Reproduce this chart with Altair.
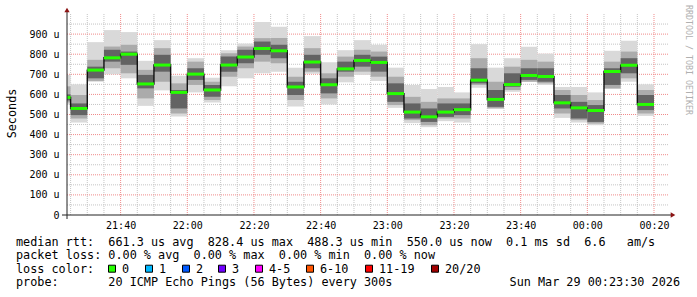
import altair as alt
import pandas as pd

# ---------------- data ----------------
step_start = ["21:20", "21:25", "21:30", "21:35", "21:40", "21:45", "21:50", "21:55",
              "22:00", "22:05", "22:10", "22:15", "22:20", "22:25", "22:30", "22:35",
              "22:40", "22:45", "22:50", "22:55", "23:00", "23:05", "23:10", "23:15",
              "23:20", "23:25", "23:30", "23:35", "23:40", "23:45", "23:50", "23:55",
              "00:00", "00:05", "00:10", "00:15"]
median_us = [585, 530, 721, 782, 800, 652, 746, 610, 701, 622, 746, 786, 828.4, 817, 637, 761,
             648, 727, 769, 759, 604, 512, 488.3, 512, 524, 671, 575, 649, 694, 689, 558, 533,
             520, 714, 745, 550.0]
smoke_max = [697, 650, 860, 920, 910, 767, 870, 693, 780, 683, 820, 853, 960, 937, 733, 890,
             760, 820, 870, 847, 733, 647, 627, 637, 610, 850, 733, 780, 837, 803, 637, 637,
             610, 817, 867, 650]
smoke_min = [550, 460, 663, 700, 680, 543, 620, 490, 610, 560, 640, 680, 705, 713, 540, 703,
             550, 660, 697, 667, 533, 457, 437, 467, 460, 633, 530, 613, 663, 647, 483, 460,
             447, 627, 663, 493]
mid_hi = [640, 597, 772, 838, 847, 722, 830, 655, 763, 663, 805, 838, 880, 880, 688, 830,
          705, 788, 822, 813, 688, 588, 563, 580, 580, 780, 663, 738, 772, 763, 622, 597,
          572, 763, 813, 622]
mid_lo = [560, 480, 667, 730, 705, 580, 663, 505, 647, 572, 688, 730, 763, 755, 572, 713,
          580, 688, 713, 688, 547, 472, 447, 480, 480, 647, 530, 622, 663, 655, 505, 472,
          455, 630, 680, 505]
core_hi = [600, 555, 738, 822, 813, 697, 797, 622, 730, 647, 788, 822, 863, 847, 663, 797,
           680, 763, 797, 788, 655, 555, 530, 555, 555, 730, 622, 705, 730, 730, 597, 563,
           547, 730, 780, 597]
core_lo = [570, 497, 680, 763, 747, 630, 713, 530, 672, 588, 713, 755, 797, 780, 597, 730,
           605, 713, 738, 713, 563, 480, 463, 488, 497, 655, 538, 638, 672, 663, 530, 480,
           463, 647, 705, 522]

y_ticks = [0, 100, 200, 300, 400, 500, 600, 700, 800, 900]
x_tick_labels = ["21:40", "22:00", "22:20", "22:40", "23:00", "23:20", "23:40", "00:00", "00:20"]
stats_line = "median rtt:  661.3 us avg  828.4 us max  488.3 us min  550.0 us now  0.1 ms sd  6.6   am/s"
loss_line = "packet loss: 0.00 % avg  0.00 % max  0.00 % min  0.00 % now"
loss_title = "loss color:"
probe_line = "probe:       20 ICMP Echo Pings (56 Bytes) every 300s"
date_text = "Sun Mar 29 00:23:30 2026"
watermark = "RRDTOOL / TOBI OETIKER"
loss_labels = ["0", "1", "2", "3", "4-5", "6-10", "11-19", "20/20"]
loss_colors = ["#26ff00", "#00b8ff", "#0059ff", "#7000ff", "#ff00ff", "#ff5500", "#ff0000", "#a10000"]

# ---------------- layout ----------------
W, H = 602, 201
LEFT, TOP = 67, 14
MONO = "DejaVu Sans Mono"
loss_key_left = [108, 145, 182, 218, 255, 306, 365, 431]   # absolute px
NB = "\u00a0"


def nb(s):
    return s.replace(" ", NB)


def mins(hm):
    """minutes after 21:00 on Mar 28"""
    h, m = map(int, hm.split(":"))
    return (h * 60 + m - 21 * 60) % 1440


starts = [mins(s) for s in step_start]
ends = [t + 5 for t in starts]
df = pd.DataFrame({"start": starts, "end": ends, "med": median_us,
                   "smax": smoke_max, "smin": smoke_min,
                   "mhi": mid_hi, "mlo": mid_lo, "chi": core_hi, "clo": core_lo})
line_df = pd.DataFrame({"start": starts + [ends[-1]], "med": median_us + [median_us[-1]]})

x_ticks = [mins(s) for s in x_tick_labels]
xscale = alt.Scale(domain=[mins("21:23") + 55 / 60, mins("00:24") + 0.5], nice=False, zero=False)
yscale = alt.Scale(domain=[0, 1000], nice=False, zero=True)

xaxis = alt.Axis(values=x_ticks,
                 labelExpr="timeFormat(datetime(2026, 2, 28, 21, datum.value), '%H:%M')",
                 labelFont=MONO, labelFontSize=10, labelColor="#000000",
                 domain=False, ticks=True, tickSize=0, labelPadding=5, grid=False,
                 labelFlush=False, labelOverlap=False, title=None)
yaxis = alt.Axis(values=y_ticks,
                 labelExpr="datum.value == 0 ? '0" + NB + NB + "' : datum.value + '" + NB + "u'",
                 labelFont=MONO, labelFontSize=10, labelColor="#000000",
                 domain=False, ticks=True, tickSize=0, labelPadding=8, grid=False,
                 title="Seconds", titleFont=MONO, titleFontSize=11.8, titleFontWeight="normal",
                 titleColor="#000000", titleAngle=270, titleX=11 - LEFT, titleY=113 - TOP,
                 titleAlign="center", titleBaseline="middle")


def X(field):
    return alt.X(field, type="quantitative", scale=xscale, axis=xaxis)


def Y(field):
    return alt.Y(field, type="quantitative", scale=yscale, axis=yaxis)


# grid positions (every 5 min, major every 20 min; every 50 u, major every 100 u)
grid_t = list(range(mins("21:25"), mins("00:20") + 1, 5))
vminor = pd.DataFrame({"t": [t for t in grid_t if t % 20 != 0]})
vmajor = pd.DataFrame({"t": [t for t in grid_t if t % 20 == 0]})
hminor = pd.DataFrame({"v": [v + 50 for v in y_ticks]})
hmajor = pd.DataFrame({"v": y_ticks[1:]})

grid_minor_col = "#c4c4c4"
grid_major_col = "#f08a8a"
dash = [1, 1]

layers = []
layers.append(alt.Chart(vminor).mark_rule(color=grid_minor_col, strokeDash=dash, strokeWidth=1).encode(
    x=X("t"), y=alt.value(0), y2=alt.value(H)))
layers.append(alt.Chart(hminor).mark_rule(color=grid_minor_col, strokeDash=dash, strokeWidth=1).encode(
    y=Y("v"), x=alt.value(0), x2=alt.value(W)))
layers.append(alt.Chart(vmajor).mark_rule(color=grid_major_col, strokeDash=dash, strokeWidth=1).encode(
    x=X("t"), y=alt.value(0), y2=alt.value(H)))
layers.append(alt.Chart(hmajor).mark_rule(color=grid_major_col, strokeDash=dash, strokeWidth=1).encode(
    y=Y("v"), x=alt.value(0), x2=alt.value(W)))

# smoke
base = alt.Chart(df)
layers.append(base.mark_rect(color="#d9d9d9", clip=True).encode(
    x=X("start"), x2="end", y=Y("smin"), y2="smax"))
layers.append(base.mark_rect(color="#ababab", clip=True).encode(
    x=X("start"), x2="end", y=Y("mlo"), y2="mhi"))
layers.append(base.mark_rect(color="#636363", clip=True).encode(
    x=X("start"), x2="end", y=Y("clo"), y2="chi"))

# median: black step line + green loss-colour segments
layers.append(alt.Chart(line_df).mark_line(interpolate="step-after", color="#111111",
                                           strokeWidth=1.4, clip=True).encode(
    x=X("start"), y=Y("med")))
layers.append(base.mark_rule(color=loss_colors[0], strokeWidth=3, clip=True).encode(
    x=X("start"), x2="end", y=Y("med")))

one = pd.DataFrame({"k": [0]})

# axes lines and arrows
axis_col = "#222222"
arrow_col = "#8c1414"
layers.append(alt.Chart(one).mark_rule(color=axis_col, strokeWidth=1).encode(
    x=alt.value(-5), x2=alt.value(W + 3), y=alt.value(H)))
layers.append(alt.Chart(one).mark_rule(color=axis_col, strokeWidth=1).encode(
    x=alt.value(0), y=alt.value(H + 4), y2=alt.value(-3)))
layers.append(alt.Chart(one).mark_point(shape="triangle-up", filled=True, color=arrow_col,
                                        size=28, opacity=1).encode(
    x=alt.value(0), y=alt.value(-4)))
layers.append(alt.Chart(one).mark_point(shape="triangle-right", filled=True, color=arrow_col,
                                        size=28, opacity=1).encode(
    x=alt.value(W + 4), y=alt.value(H)))

# watermark
layers.append(alt.Chart(one).mark_text(font=MONO, fontSize=8.3, color="#b0b0b0", angle=90,
                                       align="center", baseline="middle").encode(
    x=alt.value(688 - LEFT), y=alt.value(60 - TOP), text=alt.value(nb(watermark))))

# legend rows
rows = [(stats_line, 245.5), (loss_line, 259), (loss_title, 272.5), (probe_line, 286)]
for txt, yb in rows:
    layers.append(alt.Chart(one).mark_text(font=MONO, fontSize=11.8, color="#000000",
                                           align="left", baseline="alphabetic").encode(
        x=alt.value(16 - LEFT), y=alt.value(yb - TOP), text=alt.value(nb(txt))))
layers.append(alt.Chart(one).mark_text(font=MONO, fontSize=11.8, color="#000000",
                                       align="right", baseline="alphabetic").encode(
    x=alt.value(680 - LEFT), y=alt.value(286 - TOP), text=alt.value(nb(date_text))))

for lab, col, lx in zip(loss_labels, loss_colors, loss_key_left):
    layers.append(alt.Chart(one).mark_square(size=49, filled=True, color=col, stroke="#000000",
                                             strokeWidth=1, opacity=1).encode(
        x=alt.value(lx + 4 - LEFT), y=alt.value(268.7 - TOP)))
    layers.append(alt.Chart(one).mark_text(font=MONO, fontSize=11.8, color="#000000",
                                           align="left", baseline="alphabetic").encode(
        x=alt.value(lx + 14 - LEFT), y=alt.value(272.5 - TOP), text=alt.value(lab)))

chart = alt.layer(*layers).properties(
    width=W, height=H,
    autosize=alt.AutoSizeParams(type="none"),
    padding={"left": LEFT, "top": TOP, "right": 697 - LEFT - W, "bottom": 297 - TOP - H},
    background="#ffffff",
).configure_view(stroke=None)

chart.save("out.html", embed_options={"renderer": "svg", "actions": False})
